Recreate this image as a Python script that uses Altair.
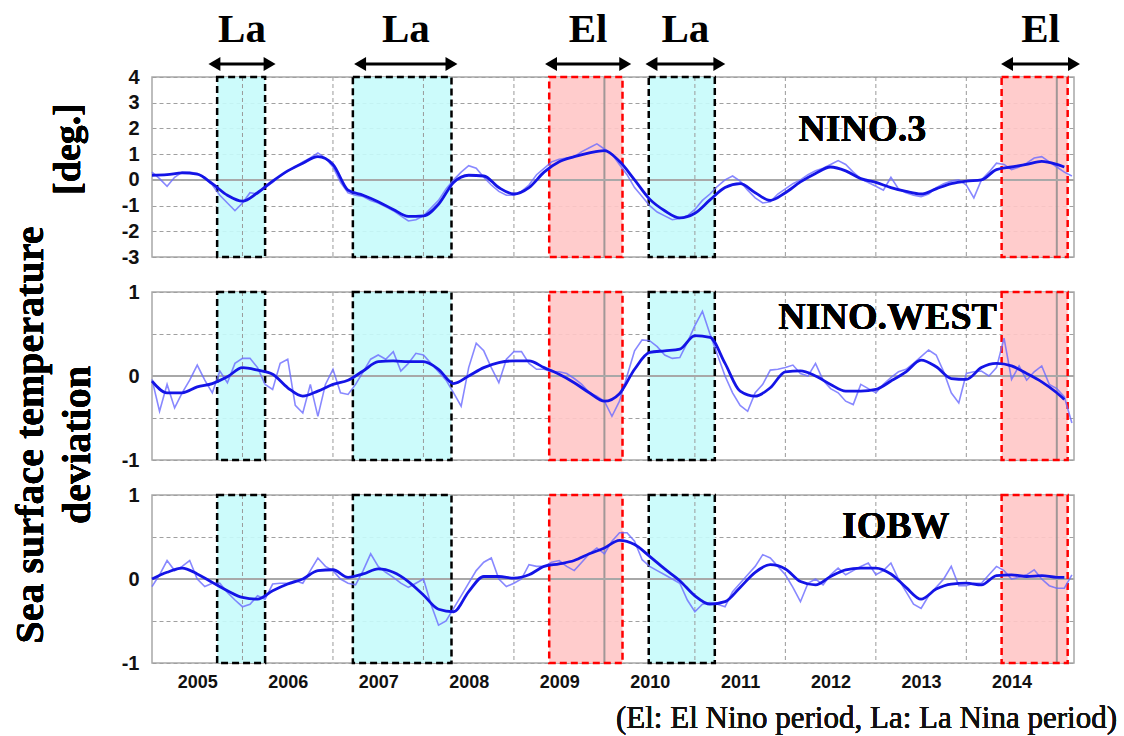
import altair as alt
import pandas as pd

START = 2005.0
X_DOMAIN = [2005.0, 2015.19]

YEAR_LABELS = [2005, 2006, 2007, 2008, 2009, 2010, 2011, 2012, 2013, 2014]
YEAR_GRID = [2006, 2007, 2008, 2009, 2011, 2012, 2013, 2014]
YEAR_DARK = [2010, 2015]

# ENSO periods
period_kind = ["La", "La", "El", "La", "El"]
period_start = [2005.72, 2007.22, 2009.39, 2010.49, 2014.39]
period_end = [2006.25, 2008.31, 2010.20, 2011.22, 2015.12]
arrow_start = [2005.69, 2007.30, 2009.41, 2010.52, 2014.45]
arrow_end = [2006.30, 2008.31, 2010.23, 2011.27, 2015.19]

# monthly values (Jan 2005 onward) and 5-month running means (every 2 months)
nino3_monthly = [0.3, 0.05, -0.25, 0.1, 0.3, 0.3, 0.25, 0.1, -0.2, -0.6, -0.9, -1.2,
                 -0.9, -0.5, -0.55, -0.3, -0.1, 0.15, 0.35, 0.5, 0.7, 0.85, 1.05, 0.85,
                 0.5, -0.1, -0.5, -0.6, -0.65, -0.8, -0.9, -1.05, -1.2, -1.4, -1.6, -1.55,
                 -1.4, -1.1, -0.8, -0.35, 0.0, 0.3, 0.55, 0.45, 0.1, -0.2, -0.45, -0.6,
                 -0.6, -0.45, -0.2, 0.2, 0.45, 0.7, 0.8, 0.85, 0.9, 1.1, 1.25, 1.4,
                 1.2, 1.0, 0.6, 0.2, -0.3, -0.65, -1.0, -1.25, -1.4, -1.55, -1.5, -1.4,
                 -1.15, -0.8, -0.55, -0.25, 0.0, 0.15, -0.05, -0.4, -0.7, -0.9, -0.85, -0.55,
                 -0.35, -0.15, 0.0, 0.2, 0.35, 0.45, 0.6, 0.75, 0.6, 0.3, 0.05, -0.1,
                 -0.25, -0.4, 0.1, -0.35, -0.5, -0.6, -0.65, -0.55, -0.3, -0.15, -0.05, 0.0,
                 -0.2, -0.7, 0.0, 0.3, 0.65, 0.6, 0.4, 0.5, 0.65, 0.85, 0.9, 0.7,
                 0.5, 0.3, 0.15]
nino3_smooth = [0.18, 0.2, 0.27, 0.22, -0.15, -0.6, -0.83, -0.5, -0.05, 0.35, 0.65, 0.9,
                0.6, -0.4, -0.6, -0.85, -1.15, -1.42, -1.4, -0.95, -0.1, 0.18, 0.15, -0.3,
                -0.55, -0.3, 0.3, 0.7, 0.9, 1.05, 1.14, 0.72, 0.0, -0.75, -1.2, -1.48,
                -1.3, -0.78, -0.3, -0.15, -0.5, -0.8, -0.5, -0.08, 0.25, 0.5, 0.35, 0.05,
                -0.1, -0.3, -0.45, -0.55, -0.35, -0.15, -0.05, 0.0, 0.4, 0.5, 0.6, 0.72,
                0.6, 0.5]

west_monthly = [-0.04, -0.42, -0.1, -0.38, -0.2, -0.05, 0.13, -0.05, -0.2, 0.06, -0.08, 0.15,
                0.21, 0.21, 0.1, -0.1, -0.16, 0.15, 0.2, -0.35, -0.44, -0.1, -0.48, -0.1,
                0.08, -0.2, -0.22, -0.1, 0.05, 0.2, 0.25, 0.2, 0.29, 0.06, 0.15, 0.27,
                0.25, 0.15, 0.05, -0.05, -0.2, -0.36, 0.1, 0.39, 0.3, 0.1, -0.08, 0.2,
                0.29, 0.29, 0.15, 0.08, 0.08, 0.05, 0.05, 0.03, -0.03, -0.1, -0.2, -0.24,
                -0.3, -0.48, -0.3, 0.0, 0.3, 0.43, 0.42, 0.35, 0.25, 0.21, 0.22, 0.4,
                0.6, 0.77, 0.5, 0.25, 0.0, -0.2, -0.35, -0.42, -0.2, -0.1, 0.07, 0.08,
                0.1, 0.13, 0.03, 0.0, 0.15, -0.05, -0.15, -0.2, -0.3, -0.34, -0.1, -0.15,
                -0.2, -0.1, -0.02, 0.05, 0.08, 0.15, 0.23, 0.31, 0.25, 0.05, -0.2, -0.32,
                0.03, 0.05, 0.06, 0.0, 0.1, 0.45, -0.04, 0.12, -0.05, 0.05, 0.12, -0.1,
                -0.15, -0.25, -0.56]
west_smooth = [-0.06, -0.2, -0.2, -0.13, -0.09, -0.01, 0.1, 0.07, 0.02, -0.14, -0.24, -0.18,
               -0.1, -0.05, 0.06, 0.17, 0.18, 0.17, 0.17, 0.08, -0.09, 0.0, 0.1, 0.16,
               0.18, 0.18, 0.1, 0.02, -0.08, -0.2, -0.3, -0.21, 0.08, 0.28, 0.3, 0.32,
               0.48, 0.46, 0.15, -0.18, -0.24, -0.14, 0.05, 0.06, 0.0, -0.1, -0.18, -0.18,
               -0.16, -0.06, 0.05, 0.19, 0.11, -0.03, -0.04, 0.1, 0.15, 0.12, 0.03, -0.07,
               -0.2, -0.28]

iobw_monthly = [-0.09, 0.05, 0.22, 0.1, 0.15, 0.22, 0.0, -0.09, -0.05, -0.05, -0.16, -0.25,
                -0.33, -0.3, -0.2, -0.24, -0.06, -0.05, -0.05, -0.02, -0.05, 0.1, 0.25, 0.15,
                0.1, 0.0, -0.05, -0.07, 0.1, 0.3, 0.15, 0.08, 0.02, -0.05, -0.1, -0.05,
                0.0, -0.3, -0.55, -0.5, -0.35, -0.2, -0.05, 0.1, 0.2, 0.25, 0.0, -0.09,
                -0.05, 0.0, 0.17, 0.15, 0.15, 0.2, 0.22, 0.15, 0.1, 0.2, 0.3, 0.37,
                0.3, 0.45, 0.55, 0.55, 0.45, 0.23, 0.15, 0.1, 0.05, 0.0, -0.05, -0.25,
                -0.39, -0.3, -0.28, -0.3, -0.33, -0.15, -0.05, 0.05, 0.15, 0.29, 0.25, 0.15,
                0.05, -0.1, -0.27, -0.05, 0.0, -0.07, 0.05, 0.13, 0.05, 0.1, 0.15, 0.19,
                0.05, 0.1, 0.19, 0.0, -0.15, -0.3, -0.35, -0.2, -0.1, 0.0, 0.15, -0.08,
                -0.08, -0.05, -0.05, 0.05, 0.15, 0.1, 0.0, 0.02, 0.05, 0.11, 0.0, -0.08,
                -0.11, -0.11, 0.05]
iobw_smooth = [0.0, 0.08, 0.13, 0.06, -0.04, -0.14, -0.22, -0.24, -0.14, -0.06, 0.0, 0.1,
               0.11, 0.02, 0.06, 0.12, 0.08, -0.03, -0.19, -0.36, -0.39, -0.15, 0.03, 0.03,
               0.01, 0.05, 0.15, 0.18, 0.22, 0.3, 0.37, 0.46, 0.41, 0.27, 0.12, -0.02,
               -0.2, -0.3, -0.27, -0.1, 0.08, 0.17, 0.12, -0.03, -0.07, 0.03, 0.11, 0.13,
               0.13, 0.06, -0.1, -0.24, -0.12, -0.06, -0.05, -0.07, 0.04, 0.05, 0.03, 0.04,
               0.02, 0.02]

SMOOTH_MONTHS = list(range(0, 121, 2)) + [121]

SERIF = "Liberation Serif"
SANS = "Liberation Sans"

periods = pd.DataFrame({"kind": period_kind, "start": period_start, "end": period_end})
arrows = pd.DataFrame({"label": period_kind, "astart": arrow_start, "aend": arrow_end})
grid_df = pd.DataFrame({"year": YEAR_GRID})
dark_df = pd.DataFrame({"year": YEAR_DARK})

x_scale = alt.Scale(domain=X_DOMAIN, nice=False, zero=False)
fill_scale = alt.Scale(domain=["La", "El"], range=["#c6fbfb", "#ffc6c6"])
stroke_scale = alt.Scale(domain=["La", "El"], range=["#000000", "#ff0000"])


def panel(monthly, smooth, ydomain, yvalues, label_expr, height, name, name_pos,
          show_x=False, extra=None):
    thin = pd.DataFrame({"t": [START + m / 12 for m in range(len(monthly))], "v": monthly})
    thick = pd.DataFrame({"t": [START + m / 12 for m in SMOOTH_MONTHS], "v": smooth})
    y_scale = alt.Scale(domain=ydomain, nice=False, zero=False)
    if show_x:
        x_axis = alt.Axis(values=[y + 0.5 for y in YEAR_LABELS], labelExpr="floor(datum.value)",
                          grid=False, ticks=False, domain=False, title=None,
                          labelFont=SANS, labelFontWeight="bold", labelFontSize=18,
                          labelColor="#111", labelPadding=10, labelOverlap=False)
    else:
        x_axis = None
    y_axis = alt.Axis(values=yvalues, labelExpr=label_expr, grid=True, gridDash=[4, 3],
                      gridColor="#a0a0a0", gridWidth=1, ticks=False, domain=False, title=None,
                      labelFont=SANS, labelFontWeight="bold", labelFontSize=20,
                      labelColor="#111", labelPadding=13, labelOverlap=False,
                      labelBound=False, labelFlush=False, labelSeparation=0)

    fills = alt.Chart(periods).mark_rect(opacity=0.9).encode(
        x=alt.X("start:Q", scale=x_scale, axis=x_axis),
        x2="end:Q",
        y=alt.Y(datum=ydomain[1], scale=y_scale, axis=y_axis),
        y2=alt.Y2(datum=ydomain[0]),
        fill=alt.Fill("kind:N", scale=fill_scale, legend=None),
    )
    vgrid = alt.Chart(grid_df).mark_rule(strokeDash=[4, 3], color="#9a9a9a", strokeWidth=1).encode(
        x=alt.X("year:Q", scale=x_scale, axis=x_axis))
    vdark = alt.Chart(dark_df).mark_rule(color="#8a8a8a", strokeWidth=2, opacity=0.8).encode(
        x=alt.X("year:Q", scale=x_scale, axis=x_axis))
    zero = alt.Chart(periods).mark_rule(color="#a8a8a8", strokeWidth=1.5).encode(
        y=alt.Y(datum=0, scale=y_scale, axis=y_axis))
    outlines = alt.Chart(periods).mark_rect(fillOpacity=0, strokeDash=[7, 4], strokeWidth=2.5).encode(
        x=alt.X("start:Q", scale=x_scale, axis=x_axis),
        x2="end:Q",
        y=alt.Y(datum=ydomain[1], scale=y_scale, axis=y_axis),
        y2=alt.Y2(datum=ydomain[0]),
        stroke=alt.Stroke("kind:N", scale=stroke_scale, legend=None),
    )
    thin_line = alt.Chart(thin).mark_line(color="#6a6aff", strokeWidth=1.6, opacity=0.8).encode(
        x=alt.X("t:Q", scale=x_scale, axis=x_axis), y=alt.Y("v:Q", scale=y_scale, axis=y_axis))
    thick_line = alt.Chart(thick).mark_line(color="#1414e6", strokeWidth=2.8,
                                            interpolate="monotone").encode(
        x=alt.X("t:Q", scale=x_scale, axis=x_axis), y=alt.Y("v:Q", scale=y_scale, axis=y_axis))
    label = alt.Chart(periods).mark_text(font=SERIF, fontWeight="bold", fontSize=38,
                                         color="black").encode(
        x=alt.X(datum=name_pos[0], scale=x_scale, axis=x_axis),
        y=alt.Y(datum=name_pos[1], scale=y_scale, axis=y_axis),
        text=alt.value(name),
    )
    layers = [fills, vgrid, vdark, zero, outlines, thin_line, thick_line, label]
    if extra:
        layers += extra
    return alt.layer(*layers).properties(width=922, height=height)


# top annotations
ann_text = alt.Chart(arrows).transform_calculate(mid="(datum.astart + datum.aend) / 2").mark_text(
    font=SERIF, fontWeight="bold", fontSize=41, color="black", baseline="middle").encode(
    x=alt.X("mid:Q", scale=x_scale, axis=None), y=alt.value(-47), text="label:N")
ann_rule = alt.Chart(arrows).mark_rule(color="black", strokeWidth=3).encode(
    x=alt.X("astart:Q", scale=x_scale, axis=None), x2="aend:Q", y=alt.value(-13))
ann_left = alt.Chart(arrows).mark_point(shape="triangle-left", filled=True, size=190,
                                        color="black", opacity=1).encode(
    x=alt.X("astart:Q", scale=x_scale, axis=None), y=alt.value(-13))
ann_right = alt.Chart(arrows).mark_point(shape="triangle-right", filled=True, size=190,
                                         color="black", opacity=1).encode(
    x=alt.X("aend:Q", scale=x_scale, axis=None), y=alt.value(-13))
deg_text = alt.Chart(periods).mark_text(font=SERIF, fontWeight="bold", fontSize=38, angle=270,
                                        align="center", baseline="middle").encode(
    x=alt.value(-83), y=alt.value(72), text=alt.value("[deg.]"))

title1 = alt.Chart(periods).mark_text(font=SERIF, fontWeight="bold", fontSize=40, angle=270,
                                      align="center", baseline="middle").encode(
    x=alt.value(-121), y=alt.value(143), text=alt.value("Sea surface temperature"))
title2 = alt.Chart(periods).mark_text(font=SERIF, fontWeight="bold", fontSize=40, angle=270,
                                      align="center", baseline="middle").encode(
    x=alt.value(-74), y=alt.value(153), text=alt.value("deviation"))

footer = alt.Chart(periods).mark_text(font=SERIF, fontSize=31, fontWeight=400,
                                      align="right", baseline="middle", color="#111").encode(
    x=alt.value(965), y=alt.value(224), text=alt.value("(El: El Nino period, La: La Nina period)"))

top = panel(nino3_monthly, nino3_smooth, [-3, 4], [-3, -2, -1, 0, 1, 2, 3, 4],
            "'' + datum.value", 180, "NINO.3", (2012.85, 1.94),
            extra=[ann_rule, ann_left, ann_right, ann_text, deg_text])
mid = panel(west_monthly, west_smooth, [-1, 1], [-1, -0.5, 0, 0.5, 1],
            "datum.value % 1 == 0 ? '' + datum.value : ''", 168, "NINO.WEST", (2013.13, 0.69),
            extra=[title1, title2])
bot = panel(iobw_monthly, iobw_smooth, [-1, 1], [-1, -0.5, 0, 0.5, 1],
            "datum.value % 1 == 0 ? '' + datum.value : ''", 168, "IOBW", (2013.22, 0.62),
            show_x=True, extra=[footer])

chart = alt.vconcat(top, mid, bot, spacing=35, bounds="flush").resolve_scale(
    y="independent"
).properties(
    padding={"left": 10, "top": 8, "right": 4, "bottom": 4},
    background="white",
).configure_view(
    stroke="#a8a8a8", strokeWidth=1.5
).configure_axis(
    labelOverlap=False
).configure_axisY(
    labelFontSize=20, labelFont=SANS, labelFontWeight="bold"
)

chart.save("out.html", embed_options={"renderer": "svg", "actions": False})
